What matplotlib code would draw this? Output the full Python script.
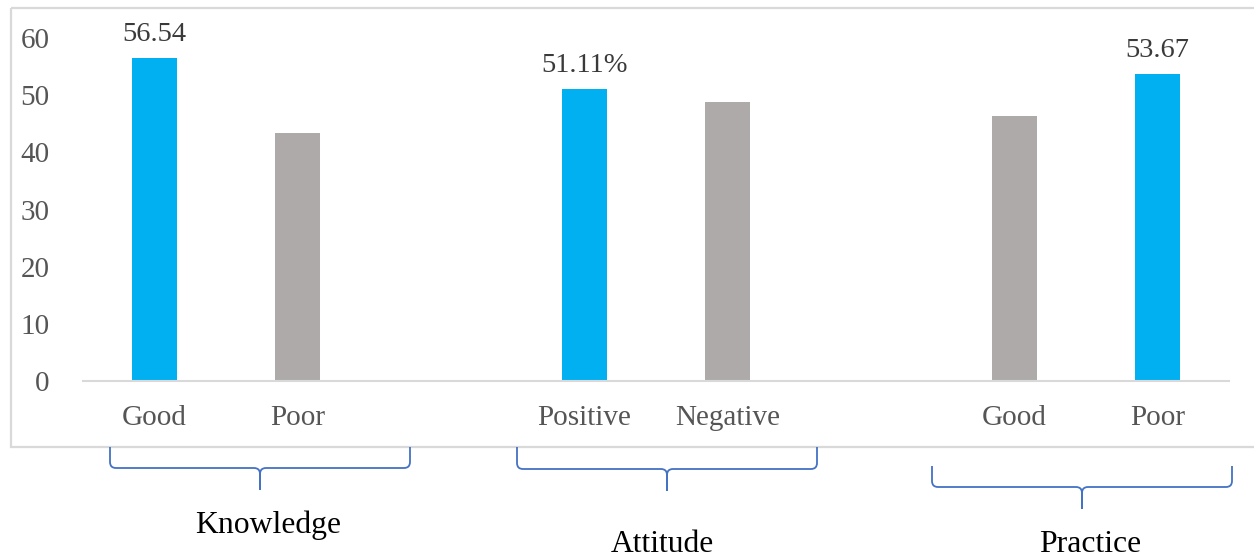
import matplotlib.pyplot as plt
from matplotlib.path import Path
from matplotlib.patches import PathPatch, Rectangle

# data
categories = ["Good", "Poor", "", "Positive", "Negative", "", "Good", "Poor"]
values = [56.54, 43.46, None, 51.11, 48.89, None, 46.33, 53.67]
highlight = [True, False, None, True, False, None, False, True]
value_labels = ["56.54", "", "", "51.11%", "", "", "", "53.67"]
groups = ["Knowledge", "Attitude", "Practice"]
yticks = [0, 10, 20, 30, 40, 50, 60]

blue = "#00B0F0"
grey = "#AEAAAA"
plt.rcParams["font.family"] = "Liberation Serif"

W, H = 1254, 556
fig = plt.figure(figsize=(W / 100, H / 100), dpi=100)

# chart area (pixel based layout)
left, right, top, bottom = 83, 1229, 38, 381
ax = fig.add_axes([left / W, 1 - bottom / H, (right - left) / W, (bottom - top) / H])

xs = [i for i, v in enumerate(values) if v is not None]
vals = [values[i] for i in xs]
cols = [blue if highlight[i] else grey for i in xs]
ax.bar(xs, vals, width=0.315, color=cols, zorder=2)

for i in xs:
    if value_labels[i]:
        ax.annotate(value_labels[i], (i, values[i]), xytext=(0, 8), textcoords="offset points",
                    ha="center", va="bottom", fontsize=20.5, color="#3A3A3A",
                    family="Liberation Serif", annotation_clip=False)

ax.set_xlim(-0.5, len(categories) - 0.5)
ax.set_ylim(0, 60)
ax.set_yticks(yticks)
ax.set_xticks(range(len(categories)))
ax.set_xticklabels(categories)
for s in ["left", "right", "top"]:
    ax.spines[s].set_visible(False)
ax.spines["bottom"].set_color("#D9D9D9")
ax.spines["bottom"].set_linewidth(1.5)
ax.tick_params(axis="both", length=0, labelsize=21, labelcolor="#555555")
ax.tick_params(axis="y", pad=24)
ax.tick_params(axis="x", pad=17)
for lab in ax.get_xticklabels() + ax.get_yticklabels():
    lab.set_fontfamily("Liberation Serif")

# overlay in pixel coordinates for border, braces and group labels
ov = fig.add_axes([0, 0, 1, 1], zorder=-1)
ov.set_xlim(0, W)
ov.set_ylim(H, 0)
ov.axis("off")
ov.add_patch(Rectangle((11, 8), 1260, 439, fill=False, edgecolor="#D9D9D9", linewidth=1.6))

ov2 = fig.add_axes([0, 0, 1, 1])
ov2.set_xlim(0, W)
ov2.set_ylim(H, 0)
ov2.axis("off")


def brace(x0, x1, xc, ytop, ymid, ytip, r=6):
    for xe, sgn in [(x0, 1), (x1, -1)]:
        verts = [(xe, ytop), (xe, ymid - r), (xe, ymid), (xe + sgn * r, ymid),
                 (xc - sgn * r, ymid), (xc, ymid), (xc, ymid + r), (xc, ytip)]
        codes = [Path.MOVETO, Path.LINETO, Path.CURVE3, Path.CURVE3,
                 Path.LINETO, Path.CURVE3, Path.CURVE3, Path.LINETO]
        ov2.add_patch(PathPatch(Path(verts, codes), fill=False, edgecolor="#4472C4", linewidth=1.3))


brace(110, 410, 260, 447, 468, 490)
brace(517, 817, 667, 447, 469, 491)
brace(932, 1232, 1082, 466, 487, 509)

label_pos = [(268, 533), (662, 552), (1090, 552)]
for g, (x, y) in zip(groups, label_pos):
    ov2.text(x, y, g, ha="center", va="baseline", fontsize=22.8, color="black",
             family="Liberation Serif")

fig.savefig("out.png", dpi=100)
